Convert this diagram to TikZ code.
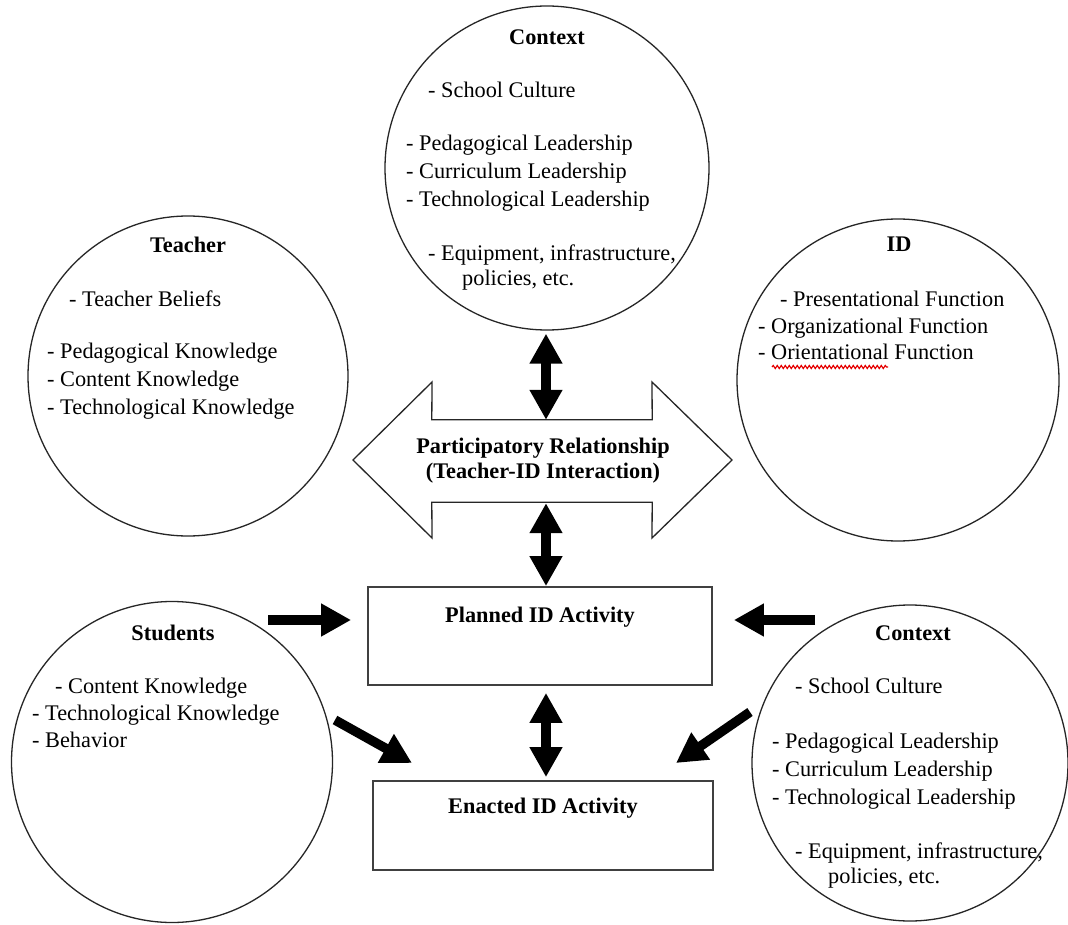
\documentclass[tikz,border=0pt]{standalone}
\usepackage{fontspec}
\setmainfont{Liberation Serif}
\usetikzlibrary{arrows.meta,decorations.pathmorphing}

\tikzset{
  ring/.style={draw=black!85, line width=1.3pt, circle, inner sep=0pt},
  actbox/.style={draw=black!75, line width=1.8pt, rectangle, inner sep=0pt},
  txt/.style={anchor=base west, inner sep=0pt, font=\fontsize{22.3}{28}\selectfont},
  head/.style={anchor=base, inner sep=0pt, font=\fontsize{22.3}{28}\selectfont\bfseries},
  blk/.style={line width=9.5pt, {Triangle[width=31pt,length=30pt]}-{Triangle[width=31pt,length=30pt]}},
  blkone/.style={line width=9.5pt, -{Triangle[width=31pt,length=30pt]}},
}

\begin{document}
\begin{tikzpicture}[x=1pt,y=-1pt]
\useasboundingbox[fill=white] (0,0) rectangle (1068,925);

% circles
\node[ring, minimum size=320pt] (teacher)  at (188,376) {};
\node[ring, minimum size=324pt] (ctxA)     at (547,168) {};
\node[ring, minimum size=322pt] (idc)      at (898,380) {};
\node[ring, minimum size=321pt] (students) at (172,762) {};
\node[ring, minimum size=316pt] (ctxB)     at (910,763) {};

% activity boxes
\node[actbox, minimum width=344pt, minimum height=98pt] (planned) at (540,636) {};
\node[actbox, minimum width=340pt, minimum height=89pt] (enacted) at (543,825.5) {};

% participatory relationship double arrow
\node[inner sep=0pt, minimum width=220pt, minimum height=82pt] (pr) at (542,461) {};
\draw[black!85, line width=1.3pt, line join=miter]
  (353,460) -- (432,382) -- (pr.north west) -- (pr.north east) -- (652,382)
  -- (732,460) -- (652,538) -- (pr.south east) -- (pr.south west) -- (432,538) -- cycle;
\node[head] (prA) at (543,453) {Participatory Relationship};
\node[head] (prB) at (543,478) {(Teacher-ID Interaction)};

% Teacher
\node[head] (teacherT) at (188,253) {Teacher};
\node[txt] (t1) at (69,306) {- Teacher Beliefs};
\node[txt] (t2) at (47,358) {- Pedagogical Knowledge};
\node[txt] (t3) at (47,386) {- Content Knowledge};
\node[txt] (t4) at (47,414) {- Technological Knowledge};

% Context (top)
\node[head] (ctxAT) at (547,45) {Context};
\node[txt] (a1) at (428,98)  {- School Culture};
\node[txt] (a2) at (406,151) {- Pedagogical Leadership};
\node[txt] (a3) at (406,179) {- Curriculum Leadership};
\node[txt] (a4) at (406,207) {- Technological Leadership};
\node[txt] (a5) at (428,261) {- Equipment, infrastructure,};
\node[txt] (a6) at (462,286) {policies, etc.};

% ID
\node[head] (idT) at (899,252) {ID};
\node[txt] (i1) at (780,307) {- Presentational Function};
\node[txt] (i2) at (758,334) {- Organizational Function};
\node[txt] (i3) at (758,359) {- Orientational Function};
\draw[red!90!black, line width=1.2pt, decorate,
      decoration={snake, amplitude=1.5pt, segment length=4pt}] (772,367) -- (888,367);

% Students
\node[head] (studT) at (173,640) {Students};
\node[txt] (s1) at (55,693) {- Content Knowledge};
\node[txt] (s2) at (32,720) {- Technological Knowledge};
\node[txt] (s3) at (32,747) {- Behavior};

% Context (bottom)
\node[head] (ctxBT) at (913,640) {Context};
\node[txt] (b1) at (795,693) {- School Culture};
\node[txt] (b2) at (772,748) {- Pedagogical Leadership};
\node[txt] (b3) at (772,776) {- Curriculum Leadership};
\node[txt] (b4) at (772,804) {- Technological Leadership};
\node[txt] (b5) at (795,858) {- Equipment, infrastructure,};
\node[txt] (b6) at (828,883) {policies, etc.};

% box titles
\node[head] (plannedT) at (540,622) {Planned ID Activity};
\node[head] (enactedT) at (543,813) {Enacted ID Activity};

% connectors
\coordinate (ax) at (546,0);
\draw[blk, shorten <=3pt] (ctxA.south -| ax) -- (pr.north -| ax);
\draw[blk, shorten <=1pt] (pr.south -| ax) -- (planned.north -| ax);
\draw[blk, shorten <=7pt, shorten >=3pt] (planned.south -| ax) -- (enacted.north -| ax);

\coordinate (inL) at (268,620);
\coordinate (inR) at (815,620);
\draw[blkone, shorten >=16pt] (inL) -- (inL -| planned.west);
\draw[blkone, shorten >=21pt] (inR) -- (inR -| planned.east);

\coordinate (dL0) at (335,720);
\coordinate (dL1) at (412,763);
\coordinate (dR0) at (750,712);
\coordinate (dR1) at (676,763);
\draw[blkone] (dL0) -- (dL1);
\draw[blkone] (dR0) -- (dR1);
\end{tikzpicture}
\end{document}
